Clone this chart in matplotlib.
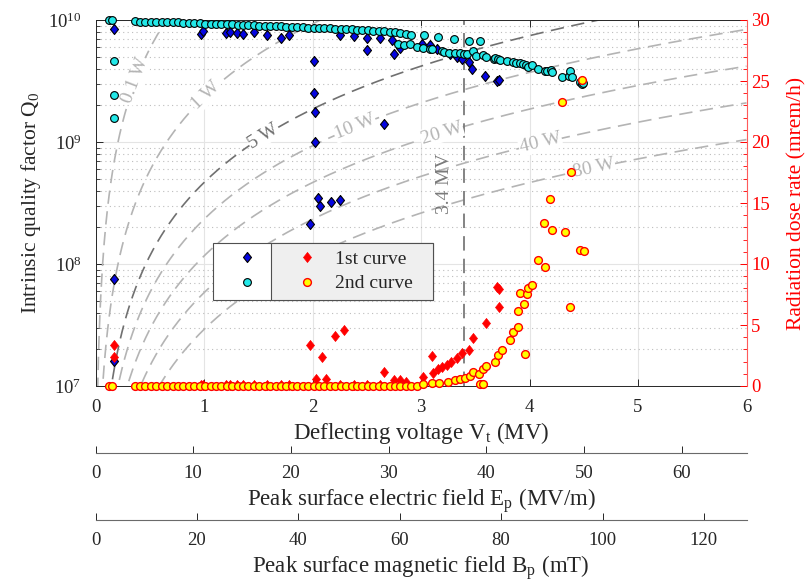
import numpy as np
import matplotlib

matplotlib.use("Agg")
import matplotlib.pyplot as plt
from matplotlib.lines import Line2D
from matplotlib.patches import Rectangle
from matplotlib.ticker import LogLocator, MultipleLocator, NullFormatter

plt.rcParams["font.family"] = ["Liberation Serif", "DejaVu Serif"]
plt.rcParams["mathtext.fontset"] = "stix"

# cavity / operating parameters
RT_OVER_Q = 430.0  # ohm
V_OP = 3.4  # MV, nominal deflecting voltage
E_PER_V = 11.1  # (MV/m) per MV
B_PER_V = 21.4  # mT per MV

POWER_LEVELS = [0.1, 1, 5, 10, 20, 40, 80]  # W dissipated
POWER_LABEL_V = [0.37, 1.02, 1.55, 2.39, 3.19, 4.10, 4.59]  # where each tag sits

# 1st curve: Q0 vs Vt
BLUE_V = [0.17, 0.17, 0.17, 0.97, 0.99, 1.20, 1.24, 1.30, 1.36, 1.46, 1.58,
          1.71, 1.78, 1.98, 2.01, 2.01, 2.02, 2.02, 2.05, 2.07, 2.17, 2.25,
          2.25, 2.38, 2.50, 2.50, 2.62, 2.66, 2.73, 2.75, 2.81, 3.01, 3.08,
          3.15, 3.27, 3.33, 3.38, 3.44, 3.47, 3.59, 3.70, 3.72]
BLUE_Q = [8.4e9, 7.5e7, 1.6e7, 7.7e9, 8.1e9, 7.8e9, 7.9e9, 7.8e9, 7.7e9,
          8.0e9, 7.6e9, 7.1e9, 7.5e9, 2.13e8, 4.6e9, 2.5e9, 1.77e9, 1.0e9,
          3.5e8, 3.0e8, 3.25e8, 3.35e8, 7.6e9, 7.4e9, 7.1e9, 5.65e9, 7.1e9,
          1.41e9, 6.8e9, 5.3e9, 5.9e9, 6.4e9, 6.2e9, 5.8e9, 5.3e9, 5.0e9,
          4.8e9, 4.5e9, 3.95e9, 3.45e9, 3.14e9, 3.2e9]

# 1st curve: radiation vs Vt
RED_V = [0.17, 0.17, 0.97, 0.99, 1.20, 1.24, 1.30, 1.36, 1.46, 1.58, 1.71,
         1.78, 1.98, 2.03, 2.09, 2.12, 2.21, 2.29, 2.25, 2.38, 2.50, 2.62,
         2.66, 2.75, 2.81, 2.86, 3.02, 3.10, 3.11, 3.16, 3.19, 3.24, 3.28,
         3.33, 3.38, 3.44, 3.48, 3.60, 3.70, 3.72, 3.72]
RED_DOSE = [3.4, 2.35, 0.1, 0.1, 0.1, 0.1, 0.1, 0.1, 0.1, 0.1, 0.1, 0.1,
            3.35, 0.57, 2.35, 0.57, 4.1, 4.6, 0.1, 0.1, 0.1, 0.1, 1.15, 0.49,
            0.49, 0.35, 0.77, 2.45, 1.04, 1.37, 1.58, 1.72, 2.0, 2.27, 2.68,
            2.92, 3.96, 5.19, 8.14, 7.92, 6.45]

# 2nd curve: Q0 vs Vt
CYAN_V = [0.12, 0.155, 0.17, 0.17, 0.17,
          0.36, 0.41, 0.46, 0.51, 0.56, 0.61, 0.66, 0.71, 0.76, 0.81, 0.86,
          0.91, 0.96, 1.01, 1.06, 1.11, 1.16, 1.21, 1.26, 1.31, 1.36, 1.41,
          1.46, 1.51, 1.56, 1.61, 1.66, 1.71, 1.76, 1.81, 1.86, 1.91, 1.96,
          2.01, 2.06, 2.11, 2.16, 2.21, 2.26, 2.31, 2.36, 2.41, 2.46, 2.51,
          2.56, 2.61, 2.66, 2.71, 2.76, 2.81, 2.86, 2.91,
          2.79, 2.84, 2.90, 2.96, 3.02, 3.03, 3.08, 3.10, 3.16, 3.19, 3.21,
          3.26, 3.30, 3.31, 3.36, 3.40, 3.42, 3.44, 3.48, 3.51, 3.54, 3.57,
          3.60, 3.67, 3.68, 3.71, 3.73, 3.79, 3.85, 3.88, 3.91, 3.94, 3.97,
          3.99, 4.02, 4.08, 4.14, 4.16, 4.20, 4.21, 4.30, 4.36, 4.37, 4.39,
          4.47, 4.48, 4.49]
CYAN_Q = [1.0e10, 1.0e10, 4.6e9, 2.43e9, 1.56e9,
          9.75e9, 9.72e9, 9.70e9, 9.68e9, 9.65e9, 9.62e9, 9.60e9, 9.57e9,
          9.55e9, 9.52e9, 9.48e9, 9.45e9, 9.40e9, 9.35e9, 9.32e9, 9.30e9,
          9.26e9, 9.22e9, 9.20e9, 9.15e9, 9.12e9, 9.10e9, 9.05e9, 9.00e9,
          8.98e9, 8.95e9, 8.90e9, 8.86e9, 8.83e9, 8.80e9, 8.75e9, 8.72e9,
          8.68e9, 8.62e9, 8.60e9, 8.55e9, 8.52e9, 8.48e9, 8.45e9, 8.40e9,
          8.36e9, 8.32e9, 8.28e9, 8.24e9, 8.20e9, 8.15e9, 8.10e9, 8.02e9,
          7.95e9, 7.85e9, 7.70e9, 7.58e9,
          6.4e9, 6.2e9, 6.3e9, 6.05e9, 5.9e9, 7.5e9, 5.8e9, 5.75e9, 7.3e9,
          5.55e9, 5.5e9, 5.4e9, 7.0e9, 5.35e9, 5.35e9, 5.3e9, 5.25e9, 6.7e9,
          5.6e9, 5.05e9, 6.75e9, 5.2e9, 5.0e9, 4.8e9, 4.85e9, 4.75e9, 4.7e9,
          4.65e9, 4.5e9, 4.45e9, 4.4e9, 4.35e9, 4.25e9, 4.15e9, 4.25e9,
          4.0e9, 3.8e9, 3.85e9, 3.9e9, 3.75e9, 3.4e9, 3.5e9, 3.8e9, 3.4e9,
          3.1e9, 3.0e9, 3.05e9]

# 2nd curve: radiation vs Vt
YEL_V = [0.12, 0.155,
         0.36, 0.41, 0.46, 0.51, 0.56, 0.61, 0.66, 0.71, 0.76, 0.81, 0.86,
         0.91, 0.96, 1.01, 1.06, 1.11, 1.16, 1.21, 1.26, 1.31, 1.36, 1.41,
         1.46, 1.51, 1.56, 1.61, 1.66, 1.71, 1.76, 1.81, 1.86, 1.91, 1.96,
         2.01, 2.06, 2.11, 2.16, 2.21, 2.26, 2.31, 2.36, 2.41, 2.46, 2.51,
         2.56, 2.61, 2.66, 2.71, 2.76, 2.81, 2.86, 2.91, 2.96,
         3.02, 3.10, 3.17, 3.25, 3.31, 3.36, 3.41, 3.45, 3.48, 3.53, 3.54,
         3.57, 3.57, 3.60, 3.68, 3.71, 3.75, 3.82, 3.85, 3.89, 3.89, 3.91,
         3.95, 3.96, 3.98, 3.99, 4.02, 4.08, 4.13, 4.14, 4.19, 4.21, 4.30,
         4.33, 4.37, 4.38, 4.47, 4.50, 4.48]
YEL_DOSE = [0.0, 0.0,
            0.0, 0.0, 0.0, 0.0, 0.0, 0.0, 0.0, 0.0, 0.0, 0.0, 0.0,
            0.0, 0.0, 0.0, 0.0, 0.0, 0.0, 0.0, 0.0, 0.0, 0.0, 0.0,
            0.0, 0.0, 0.0, 0.0, 0.0, 0.0, 0.0, 0.0, 0.0, 0.0, 0.0,
            0.0, 0.0, 0.0, 0.0, 0.0, 0.0, 0.0, 0.0, 0.0, 0.0, 0.0,
            0.0, 0.0, 0.0, 0.0, 0.0, 0.0, 0.0, 0.0, 0.0,
            0.14, 0.22, 0.27, 0.35, 0.49, 0.55, 0.63, 0.82, 1.17, 0.98, 0.16,
            1.37, 0.16, 1.64, 1.99, 2.54, 2.95, 3.77, 4.45, 4.86, 6.15, 7.6,
            6.72, 2.62, 7.52, 8.0, 8.28, 10.33, 13.39, 9.78, 15.35, 12.79, 23.3,
            12.65, 6.45, 17.57, 11.15, 11.09, 25.1]

DARK = "#262626"
DIAMOND = [(0, 1), (0.8, 0), (0, -1), (-0.8, 0), (0, 1)]
TICK_FS = 13.5
LABEL_FS = 16.5

W, H = 806, 586
fig = plt.figure(figsize=(W / 100, H / 100), dpi=100)
ax = fig.add_axes([95.5 / W, 1 - 386 / H, 651 / W, 366 / H])
ax.set_yscale("log")
ax.set_xlim(0, 6)
ax.set_ylim(1e7, 1e10)
ax.set_axisbelow(True)

# constant dissipated power: P = Vt^2 / ((R/Q) Q0)
v_grid = np.linspace(0.005, 6, 800)
for p, v_lab in zip(POWER_LEVELS, POWER_LABEL_V):
    col = "#707070" if p == 5 else "#b4b4b4"
    q = (v_grid * 1e6) ** 2 / (RT_OVER_Q * p)
    ax.plot(v_grid, q, ls=(0, (8, 4.5)), lw=1.2, color=col, zorder=1.5)
    q_lab = (v_lab * 1e6) ** 2 / (RT_OVER_Q * p)
    p0 = ax.transData.transform((v_lab, q_lab))
    p1 = ax.transData.transform((v_lab * 1.01, q_lab * 1.01 ** 2))
    ang = np.degrees(np.arctan2(p1[1] - p0[1], p1[0] - p0[0]))
    ax.text(v_lab, q_lab, f"{p:g} W", rotation=ang, rotation_mode="anchor",
            ha="center", va="center", fontsize=14, color=col, zorder=1.8,
            bbox=dict(facecolor="white", edgecolor="none", pad=0.6))

ax.plot([V_OP, V_OP], [1e7, 1e10], ls=(0, (8, 4.5)), lw=1.3, color="#7a7a7a",
        zorder=1.6)
ax.text(3.22, 4.6e8, f"{V_OP:g} MV", rotation=90, ha="center", va="center",
        fontsize=14, color="#7a7a7a")

ax.plot(BLUE_V, BLUE_Q, ls="none", marker=DIAMOND, ms=7.2, mfc="#0505e0",
        mec="black", mew=0.8, clip_on=False, zorder=3)
ax.plot(CYAN_V, CYAN_Q, ls="none", marker="o", ms=5.6, mfc="#22e8e8",
        mec="black", mew=0.8, clip_on=False, zorder=3)

ax.grid(True, which="major", color="#e4e4e4", lw=0.8)
ax.grid(True, which="minor", axis="y", ls=(0, (1, 3)), color="#bdbdbd", lw=0.8)
ax.yaxis.set_major_locator(LogLocator(base=10, numticks=10))
ax.yaxis.set_minor_locator(LogLocator(base=10, subs=np.arange(2, 10), numticks=10))
ax.yaxis.set_minor_formatter(NullFormatter())
ax.xaxis.set_major_locator(MultipleLocator(1))
ax.tick_params(which="both", direction="in", colors=DARK, labelsize=TICK_FS,
               top=True, right=False)
ax.tick_params(which="major", length=5, width=0.7)
ax.tick_params(which="minor", length=3, width=0.6)
ax.tick_params(axis="x", pad=9)
ax.tick_params(axis="y", pad=10)
for side in ("left", "top", "bottom"):
    ax.spines[side].set_color(DARK)
    ax.spines[side].set_linewidth(0.7)
ax.spines["right"].set_visible(False)

ax.set_xlabel(r"Deflecting voltage V$_{\mathregular{t}}$ (MV)", fontsize=LABEL_FS,
              color=DARK, labelpad=3)
ax.set_ylabel(r"Intrinsic quality factor Q$_{\mathregular{0}}$", fontsize=15.5,
              color=DARK, labelpad=4)

# radiation on the right axis
ax2 = ax.twinx()
ax2.set_ylim(0, 30)
ax2.yaxis.set_major_locator(MultipleLocator(5))
ax2.yaxis.set_minor_locator(MultipleLocator(1))
ax2.tick_params(which="both", direction="in", colors="red", labelsize=TICK_FS)
ax2.tick_params(which="major", length=5, width=0.7)
ax2.tick_params(which="minor", length=3, width=0.6)
for side in ("left", "top", "bottom"):
    ax2.spines[side].set_visible(False)
ax2.spines["right"].set_color("#ff5a5a")
ax2.spines["right"].set_linewidth(0.8)
ax2.set_ylabel("Radiation dose rate (mrem/h)", color="red", fontsize=15.5,
               labelpad=12)

ax2.plot(RED_V, RED_DOSE, ls="none", marker=DIAMOND, ms=7.2, mfc="red",
         mec="red", mew=0.5, clip_on=False, zorder=3)
ax2.plot(YEL_V, YEL_DOSE, ls="none", marker="o", ms=5.6, mfc="#ffff00",
         mec="red", mew=1.0, clip_on=False, zorder=3)

# legend: marker-only column for Q0, labelled column for radiation
box_l, box_m, box_r = 0.1805, 0.2691, 0.5184
box_b, box_t = 0.235, 0.3907
ax2.add_patch(Rectangle((box_l, box_b), box_r - box_l, box_t - box_b,
                        transform=ax2.transAxes, facecolor="white",
                        edgecolor="#505050", lw=0.8, zorder=4.5))
ax2.add_patch(Rectangle((box_m, box_b), box_r - box_m, box_t - box_b,
                        transform=ax2.transAxes, facecolor="#efefef",
                        edgecolor="#505050", lw=0.8, zorder=4.6))
handles = [
    Line2D([], [], ls="none", marker=DIAMOND, ms=7.2, mfc="#0505e0", mec="black", mew=0.8),
    Line2D([], [], ls="none", marker="o", ms=5.6, mfc="#22e8e8", mec="black", mew=0.8),
    Line2D([], [], ls="none", marker=DIAMOND, ms=7.2, mfc="red", mec="red", mew=0.5),
    Line2D([], [], ls="none", marker="o", ms=5.6, mfc="#ffff00", mec="red", mew=1.0),
]
leg = ax2.legend(handles, ["", "", "1st curve", "2nd curve"], ncol=2,
                 loc="center left", bbox_to_anchor=(0.210, 0.313),
                 frameon=False, fontsize=14, handlelength=1.55,
                 handletextpad=0.7, columnspacing=0.8, borderpad=0,
                 borderaxespad=0, labelspacing=0.35)
for t in leg.get_texts():
    t.set_color(DARK)
leg.set_zorder(5)

# field scales below the voltage axis
sec_e = ax.secondary_xaxis(-0.1822, functions=(lambda v: v * E_PER_V,
                                                lambda e: e / E_PER_V))
sec_e.set_xticks(np.arange(0, 61, 10))
sec_e.tick_params(direction="in", colors=DARK, labelsize=TICK_FS, length=5,
                  width=0.7, pad=9)
sec_e.spines["bottom"].set_color("#6a6a6a")
sec_e.set_xlabel(r"Peak surface electric field E$_{\mathregular{p}}$ (MV/m)",
                 fontsize=LABEL_FS, color=DARK, labelpad=3)

sec_b = ax.secondary_xaxis(-0.3661, functions=(lambda v: v * B_PER_V,
                                                lambda b: b / B_PER_V))
sec_b.set_xticks(np.arange(0, 121, 20))
sec_b.tick_params(direction="in", colors=DARK, labelsize=TICK_FS, length=5,
                  width=0.7, pad=9)
sec_b.spines["bottom"].set_color("#6a6a6a")
sec_b.set_xlabel(r"Peak surface magnetic field B$_{\mathregular{p}}$ (mT)",
                 fontsize=LABEL_FS, color=DARK, labelpad=3)

fig.savefig("out.png", dpi=100)
